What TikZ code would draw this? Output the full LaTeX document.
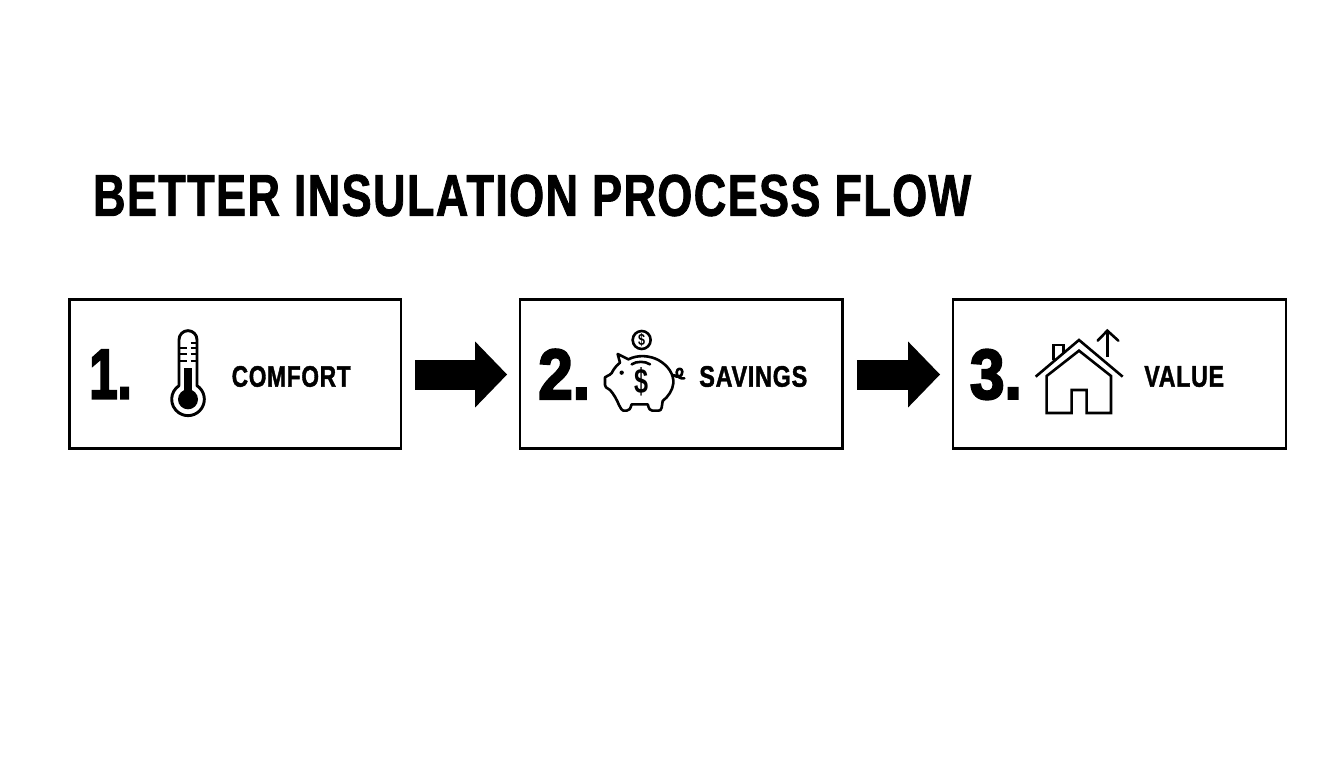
\documentclass[tikz,border=0pt]{standalone}
\usepackage{graphicx}
\usepackage{fontspec}
\usetikzlibrary{arrows.meta}
\newfontfamily\labelfont{Liberation Sans}[BoldFeatures={FakeBold=1.6,LetterSpace=3}]
\newfontfamily\numfont{Liberation Sans}[BoldFeatures={FakeBold=3.5}]
\newfontfamily\iconfont{Liberation Sans}
\newcommand{\fitlabel}[3]{\resizebox{#1pt}{#2pt}{\labelfont\bfseries #3}}
\newcommand{\fitnum}[3]{\resizebox{#1pt}{#2pt}{\numfont\bfseries #3}}
\newcommand{\fiticon}[3]{\resizebox{#1pt}{#2pt}{\iconfont\bfseries #3}}
\tikzset{
  stepbox/.style={draw=black,line width=2.8pt,fill=white,rectangle,inner sep=0pt},
  txt/.style={inner sep=0pt,outer sep=0pt,anchor=west,text=black},
  flowarrow/.style={line width=30pt,draw=black,-{Triangle[length=32pt,width=64pt,fill=black]}},
  icon/.style={line width=2.6pt,draw=black,line join=round,line cap=round},
  thinicon/.style={line width=2pt,draw=black,line cap=butt},
  zoomed/.style={x=0.33333pt,y=-0.33333pt}
}
\begin{document}
\begin{tikzpicture}[x=1pt,y=-1pt]
\useasboundingbox (0,0) rectangle (1344,768);
\fill[white] (0,0) rectangle (1344,768);
\node[txt] (title) at (93,195.5) {\fitlabel{878}{41}{BETTER INSULATION PROCESS FLOW}};
\node[stepbox,minimum width=331.5pt,minimum height=149pt] (b1) at (235.3,373.7) {};
\node[stepbox,minimum width=322.5pt,minimum height=149pt] (b2) at (681.3,373.7) {};
\node[stepbox,minimum width=333pt,minimum height=149pt] (b3) at (1119.5,373.7) {};
\draw[flowarrow,shorten <=13pt,shorten >=11.5pt] ([yshift=-0.8pt]b1.east) -- ([yshift=-0.8pt]b2.west);
\draw[flowarrow,shorten <=13pt,shorten >=11.5pt] ([yshift=-0.8pt]b2.east) -- ([yshift=-0.8pt]b3.west);
\node[txt] (n1) at (89.3,374.2) {\fitnum{42.4}{48.3}{1.}};
\node[txt] (n2) at (538.3,374.2) {\fitnum{51.7}{49.5}{2.}};
\node[txt] (n3) at (970,374.5) {\fitnum{51.7}{49}{3.}};
\node[txt] (l1) at (231.7,376.5) {\fitlabel{119}{20.7}{COMFORT}};
\node[txt] (l2) at (699.3,376.5) {\fitlabel{108}{20.7}{SAVINGS}};
\node[txt] (l3) at (1144.3,376.5) {\fitlabel{79.7}{20.7}{VALUE}};
% thermometer
\begin{scope}[shift={(60,290)},zoomed]
\draw[icon,line width=2.9pt] (357,287) -- (357,149) arc[start angle=180,end angle=360,radius=27] -- (411,287)
  arc[start angle=-56.6,end angle=236.6,radius=49] -- cycle;
\fill[black] (371,235) rectangle (397,300);
\fill[black] (384,328) circle[radius=30];
\foreach \yy in {175,193,212} \draw[thinicon] (357,\yy) -- (381,\yy);
\foreach \yy in {158,175,193,212} \draw[thinicon] (392,\yy) -- (411,\yy);
\end{scope}
% piggy bank
\begin{scope}[shift={(595,325)},zoomed]
\draw[icon] (68,87) -- (100,103) .. controls (130,88) and (165,92) .. (190,105)
  .. controls (220,122) and (237,148) .. (235,175)
  .. controls (233,195) and (220,215) .. (203,228) -- (200,248)
  .. controls (199,255) and (195,257) .. (190,257) -- (172,257)
  .. controls (165,257) and (162,252) .. (158,238) -- (110,238)
  .. controls (106,252) and (102,257) .. (95,257) -- (85,257)
  .. controls (80,257) and (78,250) .. (72,240)
  .. controls (66,225) and (55,205) .. (45,195) -- (33,187)
  .. controls (30,185) and (30,183) .. (30,180) -- (30,157)
  .. controls (40,150) and (50,150) .. (55,135)
  .. controls (60,125) and (68,120) .. (75,113) -- cycle;
\draw[icon] (235,150) .. controls (248,160) and (262,155) .. (262,140)
  .. controls (262,128) and (245,128) .. (245,142)
  .. controls (245,155) and (255,162) .. (268,160);
\fill[black] (80,143) circle[radius=6.5];
\draw[icon] (110,118) .. controls (125,108) and (150,108) .. (165,118);
\draw[icon] (140,45) circle[radius=27];
\node[inner sep=0pt] (coindollar) at (140,45) {\fiticon{7}{12}{\$}};
\node[inner sep=0pt] (pigdollar) at (139,170) {\fiticon{14}{26}{\$}};
\end{scope}
% house
\begin{scope}[shift={(945,290)},zoomed]
\draw[icon,line join=miter,line cap=butt] (272,260) -- (402,150) -- (533,260);
\draw[icon,line join=miter] (305,258) -- (402,182) -- (498,258) -- (498,369) -- (425,369) -- (425,300) -- (380,300) -- (380,369) -- (305,369) -- cycle;
\draw[icon,line join=miter,line cap=butt] (325,210) -- (325,165) -- (355,165) -- (355,190);
\draw[icon,line cap=butt] (487,200) -- (487,122);
\draw[icon,line join=miter] (458,152) -- (487,122) -- (520,152);
\end{scope}
\end{tikzpicture}
\end{document}
